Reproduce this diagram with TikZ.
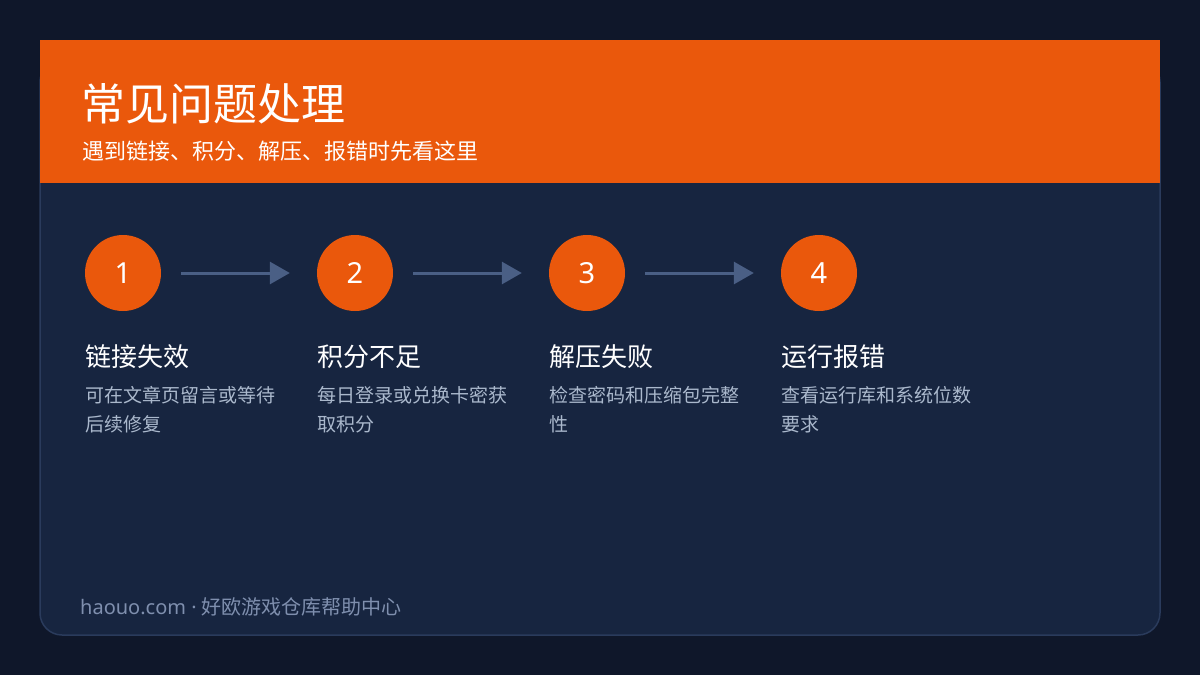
\documentclass[tikz,border=0pt]{standalone}
\usepackage{fontspec}
\setmainfont{Noto Sans CJK SC}
\newfontfamily\latinfont{Noto Sans}
\usetikzlibrary{positioning,arrows.meta}
\definecolor{pagebg}{HTML}{0F172A}
\definecolor{cardbg}{HTML}{172540}
\definecolor{cardline}{HTML}{2A3B5C}
\definecolor{orange}{HTML}{EA580C}
\definecolor{arrowc}{HTML}{4A5F85}
\definecolor{desc}{HTML}{AAB8CC}
\definecolor{foot}{HTML}{7F8FAE}
\tikzset{
  stepnum/.style={circle,fill=orange,minimum size=76pt,inner sep=0pt,text=white,font=\latinfont\fontsize{29}{29}\selectfont},
  steptitle/.style={anchor=west,inner sep=0pt,text=white,font=\fontsize{26}{26}\selectfont},
  stepdesc/.style={anchor=north west,inner sep=0pt,text=desc,align=left,font=\fontsize{19}{29}\selectfont},
  flow/.style={arrowc,line width=3pt,-{Triangle[length=20pt,width=22pt]}}
}
\begin{document}
\begin{tikzpicture}[x=1pt,y=-1pt]
\fill[pagebg] (0,0) rectangle (1200,675);
\useasboundingbox (0,0) rectangle (1200,675);
\draw[cardline,fill=cardbg,line width=1.5pt,rounded corners=22pt] (40,60) rectangle (1160,635);
\fill[orange] (40,40) rectangle (1160,183);
\node[anchor=west,inner sep=0pt,text=white,font=\fontsize{44}{44}\selectfont] (title) at (81,104) {常见问题处理};
\node[anchor=west,inner sep=0pt,text=white,font=\fontsize{22}{22}\selectfont] (subtitle) at (82,151) {遇到链接、积分、解压、报错时先看这里};
\foreach \t/\d [count=\n] in {链接失效/{可在文章页留言或等待\\后续修复},积分不足/{每日登录或兑换卡密获\\取积分},解压失败/{检查密码和压缩包完整\\性},运行报错/{查看运行库和系统位数\\要求}}{
  \node[stepnum] (S\n) at (123+232*\n-232,273) {\n};
  \node[steptitle] (T\n) at (85+232*\n-232,357) {\t};
  \node[stepdesc] (D\n) at (85+232*\n-232,386) {\d};
}
\foreach \a/\b in {1/2,2/3,3/4}
  \draw[flow] ([xshift=20pt]S\a.east) -- ([xshift=-27pt]S\b.west);
\node[anchor=west,inner sep=0pt,text=foot,font=\fontsize{20}{20}\selectfont] (footer) at (80,607) {{\latinfont haouo.com · }好欧游戏仓库帮助中心};
\end{tikzpicture}
\end{document}
